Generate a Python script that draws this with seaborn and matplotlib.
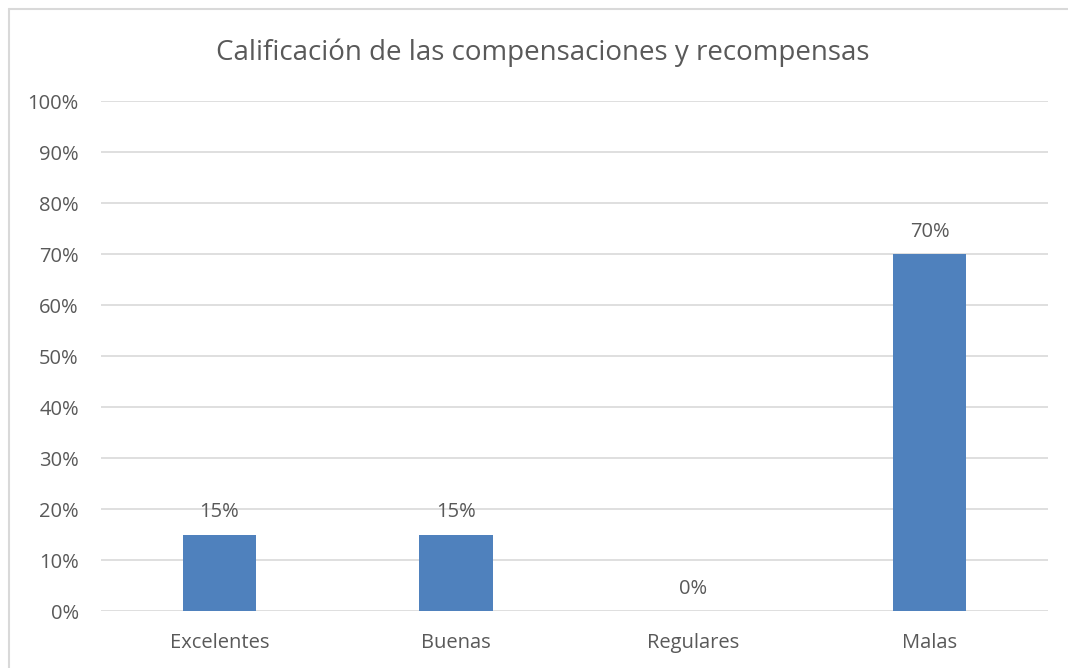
import matplotlib
matplotlib.use('Agg')
import matplotlib.pyplot as plt
import seaborn as sns
import pandas as pd
from matplotlib.lines import Line2D

# Data
categorias = ['Excelentes', 'Buenas', 'Regulares', 'Malas']
porcentajes = [15, 15, 0, 70]
ticks_y = list(range(0, 101, 10))

df = pd.DataFrame({'categoria': categorias, 'porcentaje': porcentajes})

sns.set_theme(style='white')
plt.rcParams['font.family'] = ['Open Sans', 'DejaVu Sans']

texto = '#595959'
azul = '#4F81BD'
grid = '#D9D9D9'

fig = plt.figure(figsize=(10.68, 6.68), dpi=100)
ax = fig.add_axes([0.0946, 0.0853, 0.8867, 0.7635])

sns.barplot(data=df, x='categoria', y='porcentaje', color=azul, width=0.31,
            saturation=1, linewidth=0, ax=ax, zorder=3)

ax.set_ylim(0, 100)
ax.set_xlim(-0.5, len(categorias) - 0.5)
ax.set_yticks(ticks_y)
ax.set_yticklabels([f'{t}%' for t in ticks_y])
ax.set_xlabel('')
ax.set_ylabel('')
ax.grid(axis='y', color=grid, linewidth=1.2, zorder=0)
ax.set_axisbelow(True)
for s in ax.spines.values():
    s.set_visible(False)
ax.tick_params(axis='both', length=0, labelsize=14.5, colors=texto)
ax.tick_params(axis='y', pad=16)
ax.tick_params(axis='x', pad=16)

# etiquetas sobre las barras
for i, v in enumerate(porcentajes):
    ax.text(i, v + 2.4, f'{v}%', ha='center', va='bottom', fontsize=14.5, color=texto)

fig.text(0.508, 0.921, 'Calificación de las compensaciones y recompensas',
         ha='center', va='center', fontsize=20, color=texto)

# borde del gráfico (solo izquierda y arriba visibles)
bx, by = 8.5 / 1068, 1 - 8.5 / 668
fig.add_artist(Line2D([bx, bx], [0, by], transform=fig.transFigure, color=grid, lw=1.5))
fig.add_artist(Line2D([bx, 1.01], [by, by], transform=fig.transFigure, color=grid, lw=1.5))

fig.savefig('out.png', dpi=100)
